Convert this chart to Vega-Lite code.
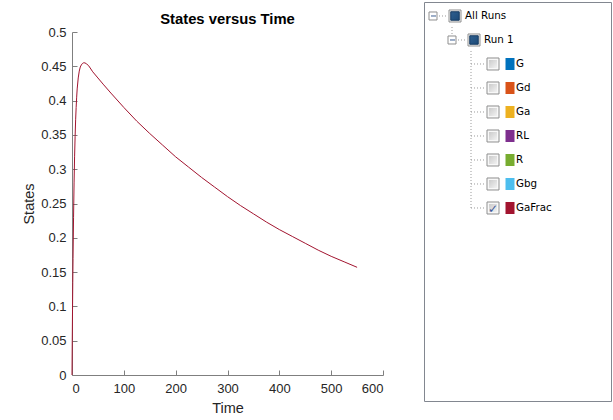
{
  "$schema": "https://vega.github.io/schema/vega-lite/v6.json",
  "padding": {"left": 21, "top": 1, "right": 0, "bottom": 0},
  "background": "white",
  "spacing": 39,
  "config": {
    "font": "Liberation Sans",
    "axis": {"grid": false, "domainColor": "#7f7f7f", "tickColor": "#7f7f7f", "labelColor": "#262626", "titleColor": "#262626", "labelFont": "Liberation Sans", "titleFont": "Liberation Sans", "labelFontSize": 13, "titleFontSize": 14.5, "titleFontWeight": "normal"}
  },
  "datasets": {
    "series": [
      {"Time": 0, "State": 0}, {"Time": 0.5, "State": 0.05}, {"Time": 1, "State": 0.095}, {"Time": 1.5, "State": 0.135},
      {"Time": 2, "State": 0.17}, {"Time": 3, "State": 0.23}, {"Time": 4, "State": 0.28}, {"Time": 5, "State": 0.318},
      {"Time": 6, "State": 0.348}, {"Time": 7, "State": 0.372}, {"Time": 8, "State": 0.39}, {"Time": 9, "State": 0.405},
      {"Time": 10, "State": 0.417}, {"Time": 12, "State": 0.433}, {"Time": 14, "State": 0.443}, {"Time": 16, "State": 0.449},
      {"Time": 18, "State": 0.452}, {"Time": 20, "State": 0.454}, {"Time": 22, "State": 0.455}, {"Time": 25, "State": 0.455},
      {"Time": 28, "State": 0.4535}, {"Time": 32, "State": 0.451}, {"Time": 40, "State": 0.442}, {"Time": 50, "State": 0.433},
      {"Time": 60, "State": 0.424}, {"Time": 75, "State": 0.411}, {"Time": 100, "State": 0.39}, {"Time": 125, "State": 0.37},
      {"Time": 150, "State": 0.352}, {"Time": 175, "State": 0.335}, {"Time": 200, "State": 0.318}, {"Time": 225, "State": 0.303},
      {"Time": 250, "State": 0.288}, {"Time": 275, "State": 0.274}, {"Time": 300, "State": 0.26}, {"Time": 325, "State": 0.247},
      {"Time": 350, "State": 0.235}, {"Time": 375, "State": 0.223}, {"Time": 400, "State": 0.212}, {"Time": 425, "State": 0.202},
      {"Time": 450, "State": 0.192}, {"Time": 475, "State": 0.182}, {"Time": 500, "State": 0.173}, {"Time": 525, "State": 0.165},
      {"Time": 550, "State": 0.157}
    ],
    "heading": [{"label": "States versus Time"}],
    "tree": [
      {"name": "All Runs", "row": 0, "level": 0, "kind": "group", "checked": false},
      {"name": "Run 1", "row": 1, "level": 1, "kind": "group", "checked": false},
      {"name": "G", "row": 2, "level": 2, "kind": "leaf", "checked": false},
      {"name": "Gd", "row": 3, "level": 2, "kind": "leaf", "checked": false},
      {"name": "Ga", "row": 4, "level": 2, "kind": "leaf", "checked": false},
      {"name": "RL", "row": 5, "level": 2, "kind": "leaf", "checked": false},
      {"name": "R", "row": 6, "level": 2, "kind": "leaf", "checked": false},
      {"name": "Gbg", "row": 7, "level": 2, "kind": "leaf", "checked": false},
      {"name": "GaFrac", "row": 8, "level": 2, "kind": "leaf", "checked": true}
    ]
  },
  "hconcat": [
    {
      "bounds": "flush",
      "spacing": 0,
      "vconcat": [
        {
          "width": 311,
          "height": 30,
          "view": {"stroke": null},
          "data": {"name": "heading"},
          "mark": {"type": "text", "font": "Liberation Sans", "fontSize": 14.8, "fontWeight": "bold", "color": "#000000", "align": "center", "baseline": "middle", "dy": 2.5},
          "encoding": {"text": {"field": "label"}}
        },
        {
          "width": 311,
          "height": 343,
          "view": {"stroke": null},
          "data": {"name": "series"},
          "mark": {"type": "line", "color": "#A2142F", "strokeWidth": 1},
          "encoding": {
            "x": {"field": "Time", "type": "quantitative", "scale": {"domain": [0, 600], "nice": false}, "axis": {"values": [0, 100, 200, 300, 400, 500, 600], "tickSize": -5, "labelPadding": 12, "title": "Time", "titlePadding": 6}},
            "y": {"field": "State", "type": "quantitative", "scale": {"domain": [0, 0.5], "nice": false}, "axis": {"values": [0, 0.05, 0.1, 0.15, 0.2, 0.25, 0.3, 0.35, 0.4, 0.45, 0.5], "format": ".2~f", "tickSize": -5, "labelPadding": 11, "title": "States", "titlePadding": 4}}
          }
        }
      ]
    },
    {
      "width": 187,
      "height": 399,
      "view": {"stroke": "#828790", "strokeWidth": 1, "fill": "white"},
      "data": {"name": "tree"},
      "encoding": {
        "x": {"field": "level", "type": "quantitative", "scale": {"domain": [-0.4737, 9.368], "nice": false, "zero": false}, "axis": null},
        "y": {"field": "row", "type": "quantitative", "scale": {"domain": [-0.5833, 16.042], "nice": false, "zero": false, "reverse": true}, "axis": null}
      },
      "layer": [
        {
          "transform": [
            {"filter": "datum.level > 0"},
            {"aggregate": [{"op": "min", "field": "row", "as": "r0"}, {"op": "max", "field": "row", "as": "r1"}], "groupby": ["level"]}
          ],
          "mark": {"type": "rule", "color": "#9a9a9a", "strokeDash": [1, 2], "yOffset": -13},
          "encoding": {"y": {"field": "r0", "type": "quantitative"}, "y2": {"field": "r1"}}
        },
        {
          "mark": {"type": "rule", "color": "#9a9a9a", "strokeDash": [1, 2], "x2Offset": 15},
          "encoding": {"x2": {"field": "level"}}
        },
        {
          "transform": [{"filter": "datum.kind == 'group'"}],
          "mark": {"type": "square", "filled": true, "fill": "#ffffff", "stroke": "#8f8f8f", "strokeWidth": 1, "size": 64, "opacity": 1}
        },
        {
          "transform": [{"filter": "datum.kind == 'group'"}],
          "mark": {"type": "rule", "color": "#3d5f93", "strokeWidth": 1, "xOffset": -2, "x2Offset": 3},
          "encoding": {"x2": {"field": "level"}}
        },
        {
          "mark": {"type": "square", "filled": true, "fill": "#f8f8f8", "stroke": "#8e8f8f", "strokeWidth": 1, "size": 144, "xOffset": 22, "opacity": 1}
        },
        {
          "transform": [{"filter": "datum.kind == 'leaf'"}],
          "mark": {"type": "square", "filled": true, "size": 64, "xOffset": 22, "opacity": 1, "fill": {"gradient": "linear", "x1": 0, "y1": 0, "x2": 1, "y2": 1, "stops": [{"offset": 0, "color": "#cbcbcb"}, {"offset": 1, "color": "#f2f2f2"}]}}
        },
        {
          "transform": [{"filter": "datum.kind == 'group'"}],
          "mark": {"type": "square", "filled": true, "size": 72, "xOffset": 22, "opacity": 1, "stroke": "#15395f", "strokeWidth": 1, "fill": {"gradient": "linear", "x1": 0, "y1": 0, "x2": 1, "y2": 1, "stops": [{"offset": 0, "color": "#2f5f8f"}, {"offset": 1, "color": "#1c4a78"}]}}
        },
        {
          "transform": [{"filter": "datum.checked"}],
          "mark": {"type": "text", "text": "✓", "font": "DejaVu Sans", "fontSize": 12, "fontWeight": "bold", "color": "#3b5899", "xOffset": 22, "yOffset": 1, "align": "center", "baseline": "middle"}
        },
        {
          "transform": [{"filter": "datum.kind == 'leaf'"}],
          "mark": {"type": "tick", "orient": "vertical", "size": 12, "thickness": 9, "xOffset": 39, "opacity": 1},
          "encoding": {"color": {"field": "name", "type": "nominal", "legend": null, "scale": {"domain": ["G", "Gd", "Ga", "RL", "R", "Gbg", "GaFrac"], "range": ["#0072BD", "#D95319", "#EDB120", "#7E2F8E", "#77AC30", "#4DBEEE", "#A2142F"]}}}
        },
        {
          "transform": [{"filter": "datum.kind == 'group'"}],
          "mark": {"type": "text", "font": "DejaVu Sans", "fontSize": 10.3, "color": "#000000", "align": "left", "baseline": "middle", "xOffset": 32},
          "encoding": {"text": {"field": "name"}}
        },
        {
          "transform": [{"filter": "datum.kind == 'leaf'"}],
          "mark": {"type": "text", "font": "DejaVu Sans", "fontSize": 10.3, "color": "#000000", "align": "left", "baseline": "middle", "xOffset": 45},
          "encoding": {"text": {"field": "name"}}
        }
      ]
    }
  ]
}
